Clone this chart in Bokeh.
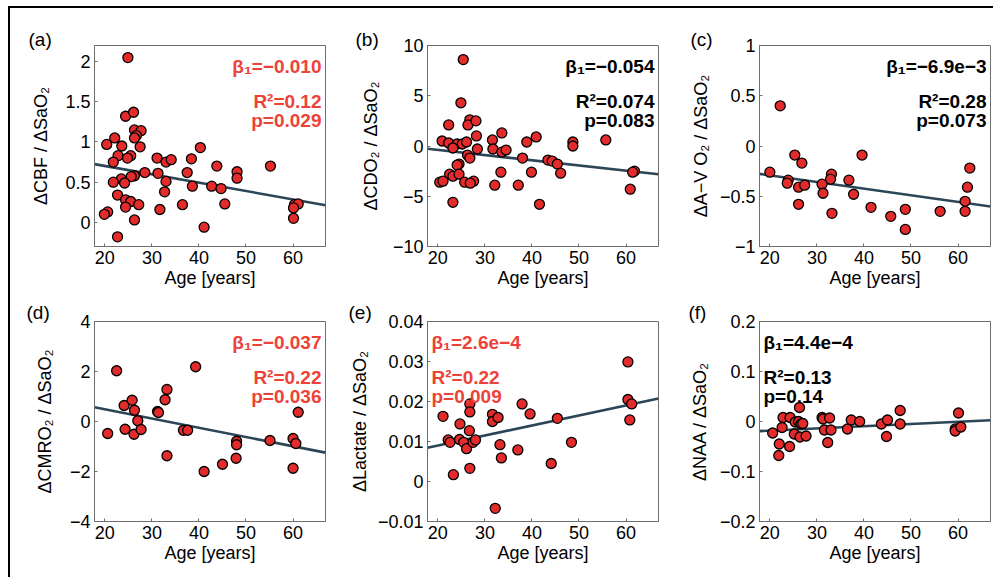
from bokeh.plotting import figure
from bokeh.models import Range1d, FixedTicker, Label, CustomJSTickFormatter
from bokeh.layouts import column, row
from bokeh.embed import file_html
from bokeh.resources import INLINE

# ---------------- data ----------------
age_a = [24.9, 24.4, 26.1, 26.3, 27.7, 26.7, 26.3, 22.1, 20.4, 23.6, 27.5, 22.8, 25.5, 24.8, 21.8,
         31.1, 33.0, 34.1, 38.4, 40.3, 43.8, 55.2, 37.5, 28.5, 31.3, 26.3, 25.6, 48.1, 48.1, 23.5,
         21.8, 24.2, 33.0, 38.6, 42.7, 44.7, 32.7, 22.7, 24.4, 25.5, 27.2, 36.5, 45.5, 24.4, 31.7,
         20.6, 19.9, 26.3, 60.3, 61.1, 60.1, 60.1, 41.1, 22.7]
val_a = [2.05, 1.32, 1.37, 1.15, 1.14, 1.08, 1.05, 1.05, 0.97, 0.95, 0.94, 0.83, 0.83, 0.80, 0.75,
         0.80, 0.75, 0.78, 0.79, 0.93, 0.70, 0.70, 0.62, 0.62, 0.61, 0.58, 0.57, 0.63, 0.55, 0.54,
         0.50, 0.49, 0.51, 0.45, 0.45, 0.42, 0.38, 0.34, 0.28, 0.26, 0.22, 0.22, 0.23, 0.19, 0.16,
         0.13, 0.10, 0.03, 0.22, 0.23, 0.18, 0.05, -0.06, -0.18]

age_b = [25.4, 24.9, 26.8, 26.4, 28.1, 22.3, 20.9, 22.3, 24.1, 25.2, 26.1, 28.2, 31.6, 33.6, 38.9,
         40.9, 48.7, 48.7, 55.7, 23.2, 28.4, 31.7, 33.6, 34.5, 26.3, 26.8, 38.0, 43.4, 44.3, 45.4,
         24.5, 24.1, 22.5, 23.2, 24.5, 33.4, 39.9, 46.1, 61.8, 61.4, 20.4, 21.1, 25.7, 27.6, 26.9,
         32.1, 37.1, 60.9, 23.2, 41.6]
val_b = [8.6, 4.3, 2.6, 2.1, 2.5, 2.1, 0.5, 0.3, 0.2, 0.2, 0.4, 1.0, 0.6, 1.3, 0.4,
         0.9, 0.4, 0.0, 0.6, -0.2, -0.3, -0.3, -0.6, -0.4, -0.9, -1.2, -1.2, -1.4, -1.5, -1.8,
         -1.8, -1.9, -2.8, -3.0, -2.8, -2.6, -2.6, -2.7, -2.5, -2.6, -3.6, -3.5, -3.6, -3.5, -3.7,
         -3.9, -3.9, -4.3, -5.6, -5.8]

age_c = [22.2, 20.0, 25.3, 26.8, 23.9, 23.7, 26.1, 27.4, 26.1, 31.1, 31.3, 33.1, 32.9, 33.2, 36.8,
         37.8, 39.6, 41.5, 45.7, 48.8, 48.8, 56.2, 61.5, 61.5, 62.0, 62.5]
val_c = [0.40, -0.26, -0.09, -0.17, -0.34, -0.37, -0.41, -0.39, -0.58, -0.38, -0.47, -0.28, -0.33,
         -0.67, -0.34, -0.48, -0.09, -0.61, -0.70, -0.63, -0.83, -0.65, -0.55, -0.65, -0.41, -0.22]

age_d = [20.6, 22.5, 24.1, 24.3, 25.8, 26.3, 27.0, 26.2, 27.7, 31.2, 31.4, 32.8, 33.2, 33.2, 36.7,
         37.6, 39.3, 41.1, 45.0, 48.0, 48.0, 47.9, 55.1, 60.0, 60.6, 60.0, 61.1]
val_d = [-0.48, 2.03, 0.64, -0.31, 0.85, 0.45, 0.03, -0.51, -0.32, 0.40, 0.36, 0.87, 1.28, -1.37,
         -0.35, -0.35, 2.19, -2.00, -1.71, -0.79, -0.93, -1.47, -0.76, -0.68, -0.88, -1.87, 0.37]

age_e = [21.1, 22.2, 22.6, 23.3, 24.7, 24.6, 25.5, 26.1, 26.8, 26.8, 26.7, 26.8, 27.5, 28.0, 31.6,
         31.6, 32.8, 33.2, 33.5, 32.2, 37.0, 37.9, 39.6, 44.1, 45.4, 48.4, 60.4, 60.4, 61.2, 60.8]
val_e = [0.0163, 0.0104, 0.0098, 0.0017, 0.0144, 0.0105, 0.0098, 0.0082, 0.0194, 0.0174, 0.0127,
         0.0033, 0.0098, 0.0104, 0.0168, 0.0150, 0.0160, 0.0092, 0.0059, -0.0067, 0.0079, 0.0194,
         0.0169, 0.0045, 0.0158, 0.0098, 0.0299, 0.0205, 0.0194, 0.0154]

age_f = [20.6, 21.9, 22.0, 22.6, 22.8, 24.2, 24.3, 25.2, 25.4, 26.1, 26.3, 26.6, 26.4, 27.0, 27.7,
         31.1, 31.3, 31.6, 32.3, 32.7, 33.0, 36.5, 37.3, 39.1, 43.7, 44.8, 45.0, 47.7, 47.7, 59.4,
         59.4, 60.1, 60.6]
val_f = [-0.023, -0.068, -0.045, -0.012, 0.008, -0.050, 0.008, -0.025, -0.001, 0.000, 0.028, -0.005,
         -0.031, -0.004, -0.029, 0.008, 0.005, -0.017, -0.042, 0.007, -0.017, -0.015, 0.003, 0.000,
         -0.005, -0.030, 0.003, 0.022, -0.005, -0.015, -0.019, 0.017, -0.011]

# regression coefficients (intercept, slope)
intercepts = [0.91, 0.66, -0.16, 1.23, 0.0040, -0.027]
slopes = [-0.0104, -0.052, -0.0066, -0.037, 0.00025, 0.00044]

panel_tags = ["(a)", "(b)", "(c)", "(d)", "(e)", "(f)"]
y_labels = ["ΔCBF / ΔSaO₂", "ΔCDO₂ / ΔSaO₂", "ΔA−V O₂ / ΔSaO₂",
            "ΔCMRO₂ / ΔSaO₂", "ΔLactate / ΔSaO₂", "ΔNAA / ΔSaO₂"]
stat_beta = ["β₁=−0.010", "β₁=−0.054", "β₁=−6.9e−3", "β₁=−0.037", "β₁=2.6e−4", "β₁=4.4e−4"]
stat_r2 = ["R²=0.12", "R²=0.074", "R²=0.28", "R²=0.22", "R²=0.22", "R²=0.13"]
stat_p = ["p=0.029", "p=0.083", "p=0.073", "p=0.036", "p=0.009", "p=0.14"]
significant = [True, False, False, True, True, False]

x_ticks = [20, 30, 40, 50, 60]
y_limits = [(-0.3, 2.2), (-10, 10), (-1, 1), (-4, 4), (-0.01, 0.04), (-0.2, 0.2)]
y_ticks = [[0, 0.5, 1, 1.5, 2], [-10, -5, 0, 5, 10], [-1, -0.5, 0, 0.5, 1],
           [-4, -2, 0, 2, 4], [-0.01, 0, 0.01, 0.02, 0.03, 0.04], [-0.2, -0.1, 0, 0.1, 0.2]]
x_limits = (17.8, 66.9)

ages = [age_a, age_b, age_c, age_d, age_e, age_f]
vals = [val_a, val_b, val_c, val_d, val_e, val_f]

# ---------------- style ----------------
FONT = "Liberation Sans"
RED_TEXT = "#ee4238"
MARKER_RED = "#e32b2b"
LINE_COL = "#2c4658"
FRAME_COL = "#6e6e6e"

widths = [333, 332, 318]
left_borders = [84, 84, 84]
right_borders = [18, 17, 3]
row_heights = [(37, 201, 52), (23, 200, 56)]
tag_offsets = [-66, -72, -69, -68, -79, -71]
tag_standoff = [-9, -3]
ylabel_standoff = [11, 9, 6, 12, 5, 7]
stat_left = [False, False, False, False, True, True]

fmt = CustomJSTickFormatter(code="""
const v = Number(tick.toPrecision(6));
return (v < 0 ? '\\u2212' : '') + String(Math.abs(v));
""")

figs = []
for i in range(6):
    r, c = divmod(i, 3)
    bt, fh, bb = row_heights[r]
    p = figure(width=widths[c], height=bt + fh + bb,
               x_range=Range1d(*x_limits), y_range=Range1d(*y_limits[i]),
               output_backend="svg", toolbar_location=None, tools="",
               min_border_left=left_borders[c], min_border_right=right_borders[c],
               min_border_top=bt, min_border_bottom=bb)
    p.background_fill_color = "white"
    p.border_fill_color = "white"
    p.outline_line_color = FRAME_COL
    p.outline_line_width = 1
    p.xgrid.visible = False
    p.ygrid.visible = False

    # panel tag as title
    p.title.text = panel_tags[i]
    p.title.align = "left"
    p.title.offset = tag_offsets[i]
    p.title.standoff = tag_standoff[r]
    p.title.text_font = FONT
    p.title.text_font_size = "19px"
    p.title.text_font_style = "normal"
    p.title.text_color = "black"

    for ax in (p.xaxis[0], p.yaxis[0]):
        ax.major_label_text_font = FONT
        ax.major_label_text_font_size = "18px"
        ax.major_label_text_color = "black"
        ax.axis_label_text_font = FONT
        ax.axis_label_text_font_size = "18px"
        ax.axis_label_text_font_style = "normal"
        ax.axis_label_text_color = "black"
        ax.axis_line_color = FRAME_COL
        ax.major_tick_in = 3
        ax.major_tick_out = 0
        ax.major_tick_line_color = FRAME_COL
        ax.minor_tick_line_color = None
        ax.formatter = fmt
        ax.major_label_standoff = 4

    p.xaxis[0].ticker = FixedTicker(ticks=x_ticks)
    p.yaxis[0].ticker = FixedTicker(ticks=y_ticks[i])
    p.xaxis[0].axis_label = "Age [years]"
    p.xaxis[0].axis_label_standoff = 1
    p.yaxis[0].axis_label = y_labels[i]
    p.yaxis[0].axis_label_standoff = ylabel_standoff[i]

    # regression line over the axis extent
    xs = list(x_limits)
    ys = [intercepts[i] + slopes[i] * x for x in xs]
    p.line(xs, ys, line_color=LINE_COL, line_width=2.6)

    p.scatter(ages[i], vals[i], size=10, fill_color=MARKER_RED, line_color="black",
              line_width=1.3)

    # stats text
    col = RED_TEXT if significant[i] else "black"
    if stat_left[i]:
        sx, align, xo = x_limits[0], "left", 4
    else:
        sx, align, xo = x_limits[1], "right", -4
    for txt, yo in zip([stat_beta[i], stat_r2[i], stat_p[i]], [-21, -56, -75]):
        p.add_layout(Label(x=sx, y=y_limits[i][1], x_offset=xo, y_offset=yo, text=txt,
                           text_font=FONT, text_font_size="19px", text_font_style="bold",
                           text_color=col, text_align=align, text_baseline="alphabetic"))
    figs.append(p)

layout = column(row(*figs[:3]), row(*figs[3:]),
                styles={"border-left": "2px solid black", "border-top": "2px solid black",
                        "margin-left": "8px", "margin-top": "6px"})

with open("out.html", "w") as f:
    f.write(file_html(layout, INLINE))
